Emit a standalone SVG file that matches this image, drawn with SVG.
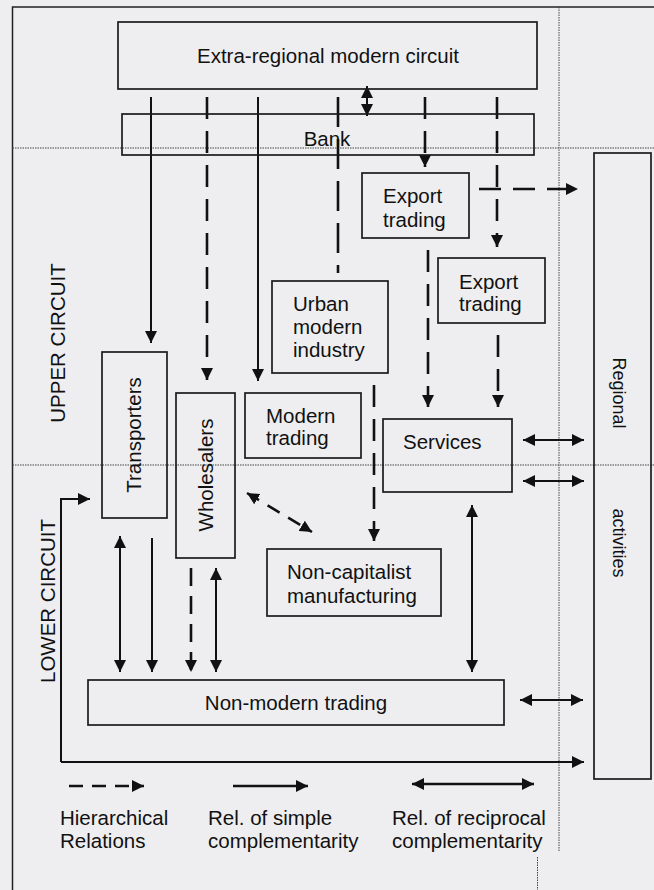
<svg xmlns="http://www.w3.org/2000/svg" width="654" height="890" viewBox="0 0 654 890">
<defs>
<marker id="ah" viewBox="0 0 12 12" refX="12" refY="6" markerWidth="12" markerHeight="12" markerUnits="userSpaceOnUse" orient="auto-start-reverse">
<path d="M0,0 L12,6 L0,12 z" fill="#111"/>
</marker>
<style>
.box{fill:none;stroke:#1a1a1a;stroke-width:1.7}
.t{font-family:"Liberation Sans",Arial,sans-serif;font-size:20.5px;fill:#111}
.tc{text-anchor:middle}
.s{fill:none;stroke:#111;stroke-width:2}
.d{fill:none;stroke:#111;stroke-width:2.6;stroke-dasharray:22 12}
.end{marker-end:url(#ah)}
.both{marker-start:url(#ah);marker-end:url(#ah)}
.dot{fill:none;stroke:#444;stroke-width:1;stroke-dasharray:1.5 1}
</style>
</defs>
<rect width="654" height="890" fill="#eeeef0"/>
<g id="frame">
<path d="M12.5,890 V7 H654" fill="none" stroke="#222" stroke-width="1.5"/>
<path class="dot" d="M12.5,148 H654"/>
<path class="dot" d="M12.5,465 H654"/>
<path class="dot" d="M559,7 V851"/>
<path class="dot" d="M537.5,857 V890"/>
<text class="t" transform="translate(65,343) rotate(-90)" text-anchor="middle">UPPER CIRCUIT</text>
<text class="t" transform="translate(55,601) rotate(-90)" text-anchor="middle">LOWER CIRCUIT</text>
</g>
<g id="connectors">
<path class="s end" d="M151,97 V343"/>
<path class="s end" d="M258,97 V381"/>
<path class="s both" d="M367,86 V116"/>
<path class="d end" d="M207,97 V380"/>
<path class="d" d="M338,97 V273" style="stroke-dasharray:30 12"/>
<path class="d end" d="M425,97 V167"/>
<path class="d end" d="M497,97 V247"/>
<path class="d end" d="M479,189 H578"/>
<path class="d end" d="M428,250 V407"/>
<path class="d end" d="M498,335 V407"/>
<path class="d end" d="M374,385 V541"/>
<path class="d both" d="M247,493 L312,532" style="stroke-dasharray:14 10"/>
<path class="s end" d="M61,762 V499 H90"/>
<path class="s end" d="M61,762 H584"/>
<path class="s both" d="M120,536 V672"/>
<path class="s end" d="M152,538 V672"/>
<path class="d end" d="M191,568 V672" style="stroke-dasharray:18 10"/>
<path class="s both" d="M216,568 V672"/>
<path class="s both" d="M472,505 V672"/>
<path class="s both" d="M523,440 H584"/>
<path class="s both" d="M523,481 H584"/>
<path class="s both" d="M520,700 H583"/>
</g>
<g id="extra-regional">
<rect class="box" x="118" y="22" width="419" height="67"/>
<text class="t tc" x="328" y="63">Extra-regional modern circuit</text>
</g>
<g id="bank">
<rect class="box" x="122" y="114" width="412" height="41"/>
<text class="t tc" x="327" y="146">Bank</text>
</g>
<g id="export1">
<rect class="box" x="362" y="173" width="107" height="65"/>
<text class="t" x="383" y="203">Export</text>
<text class="t" x="383" y="227">trading</text>
</g>
<g id="export2">
<rect class="box" x="438" y="258" width="107" height="65"/>
<text class="t" x="459" y="289">Export</text>
<text class="t" x="459" y="311">trading</text>
</g>
<g id="urban">
<rect class="box" x="272" y="281" width="116" height="92"/>
<text class="t" x="293" y="311">Urban</text>
<text class="t" x="293" y="334">modern</text>
<text class="t" x="293" y="357">industry</text>
</g>
<g id="transporters">
<rect class="box" x="102" y="352" width="65" height="166"/>
<text class="t" transform="translate(141,435) rotate(-90)" text-anchor="middle">Transporters</text>
</g>
<g id="wholesalers">
<rect class="box" x="176" y="393" width="59" height="165"/>
<text class="t" transform="translate(213,475) rotate(-90)" text-anchor="middle">Wholesalers</text>
</g>
<g id="modern-trading">
<rect class="box" x="245" y="393" width="116" height="65"/>
<text class="t" x="266" y="423">Modern</text>
<text class="t" x="266" y="445">trading</text>
</g>
<g id="services">
<rect class="box" x="383" y="419" width="129" height="73"/>
<text class="t" x="403" y="449">Services</text>
</g>
<g id="non-capitalist">
<rect class="box" x="267" y="549" width="174" height="67"/>
<text class="t" x="287" y="579">Non-capitalist</text>
<text class="t" x="287" y="603">manufacturing</text>
</g>
<g id="non-modern">
<rect class="box" x="88" y="680" width="416" height="45"/>
<text class="t tc" x="296" y="710">Non-modern trading</text>
</g>
<g id="regional">
<rect class="box" x="594" y="153" width="57" height="626"/>
<text class="t" style="font-size:18px" transform="translate(613,393) rotate(90)" text-anchor="middle">Regional</text>
<text class="t" style="font-size:18px" transform="translate(613,543) rotate(90)" text-anchor="middle">activities</text>
</g>
<g id="legend">
<path class="d end" d="M69,786 H144" style="stroke-dasharray:14 9"/>
<path class="s end" d="M233,786 H308" style="stroke-width:2.5"/>
<path class="s both" d="M412,784 H534" style="stroke-width:2.5"/>
<text class="t" x="60" y="825">Hierarchical</text>
<text class="t" x="60" y="848">Relations</text>
<text class="t" x="208" y="825">Rel. of simple</text>
<text class="t" x="208" y="848">complementarity</text>
<text class="t" x="392" y="825">Rel. of reciprocal</text>
<text class="t" x="392" y="848">complementarity</text>
</g>
</svg>
